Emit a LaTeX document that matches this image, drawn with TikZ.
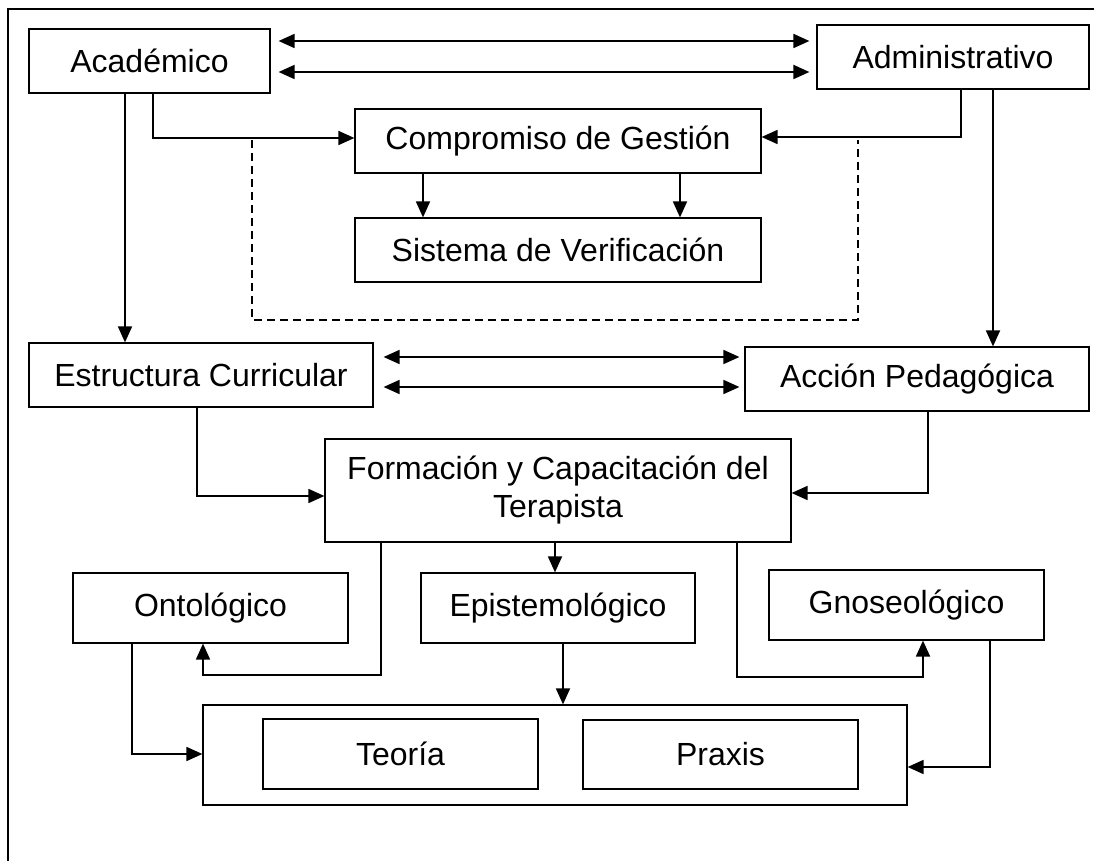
\documentclass[tikz,border=0pt]{standalone}
\usepackage{fontspec}
\setmainfont{Liberation Sans}
\usetikzlibrary{arrows.meta}

\begin{document}
\begin{tikzpicture}[x=0.5pt,y=-0.5pt,line width=0.9pt,
    caja/.style={draw,line width=0.6pt,inner sep=0pt,align=center,
      font=\fontsize{16}{19}\selectfont},
    >={Triangle[length=8pt,width=7pt]}]
    \useasboundingbox (0,0) rectangle (1094,861);
    \draw[line width=0.6pt] (8,861) -- (8,9) -- (1094,9);

    \node[caja,minimum width=120.5pt,minimum height=32pt](acad) at (149.5,61) {Académico};
    \node[caja,minimum width=136pt,minimum height=32pt](admin) at (953,57) {Administrativo};
    \node[caja,minimum width=203pt,minimum height=32pt](comp) at (558,141) {Compromiso de Gestión};
    \node[caja,minimum width=203pt,minimum height=32pt](sist) at (558,250) {Sistema de Verificación};
    \node[caja,minimum width=172pt,minimum height=32pt](estr) at (201,375) {Estructura Curricular};
    \node[caja,minimum width=172pt,minimum height=32pt](accion) at (917,379) {Acción Pedagógica};
    \node[caja,minimum width=233pt,minimum height=51.5pt](form) at (558,490.5) {Formación y Capacitación del\\Terapista};
    \node[caja,minimum width=137.5pt,minimum height=35pt](onto) at (210.5,608) {Ontológico};
    \node[caja,minimum width=137pt,minimum height=35pt](epis) at (558,608) {Epistemológico};
    \node[caja,minimum width=137.5pt,minimum height=35pt](gnos) at (906.5,605) {Gnoseológico};
    \node[caja,minimum width=352pt,minimum height=50pt](marco) at (555,755) {};
    \node[caja,minimum width=137.5pt,minimum height=35pt](teoria) at (400.5,754) {Teoría};
    \node[caja,minimum width=137.5pt,minimum height=34.5pt](praxis) at (720.5,754.5) {Praxis};

    \draw[<->,shorten <=4pt,shorten >=3.5pt] ([yshift=10pt]acad.east) -- ([yshift=10pt]acad.east -| admin.west);
    \draw[<->,shorten <=4pt,shorten >=3.5pt] ([yshift=-5.5pt]acad.east) -- ([yshift=-5.5pt]acad.east -| admin.west);
    \draw[<->,shorten <=5pt,shorten >=2.5pt] ([yshift=9pt]estr.east) -- ([yshift=9pt]estr.east -| accion.west);
    \draw[<->,shorten <=5pt,shorten >=2.5pt] ([yshift=-6pt]estr.east) -- ([yshift=-6pt]estr.east -| accion.west);

    \draw[->] (acad.south -| 125,0) -- (estr.north -| 125,0);
    \draw[->] (acad.south -| 143,0) -- (acad.south -| 153,0) -- (153,138) -- (comp.west |- 0,138);
    \draw[->] (admin.south -| 961,0) -- (961,137) -- (comp.east |- 0,137);
    \draw[->] (admin.south -| 993,0) -- (accion.north -| 993,0);
    \draw[->] (comp.south -| 423,0) -- (sist.north -| 423,0);
    \draw[->] (comp.south -| 680,0) -- (sist.north -| 680,0);
    \draw[dashed,line width=0.6pt,dash pattern=on 4pt off 2.5pt] (252,140) -- (252,320) -- (858,320) -- (858,140);

    \draw[->] (estr.south -| 185,0) -- (estr.south -| 197,0) -- (197,496) -- (form.west |- 0,496);
    \draw[->] (accion.south -| 928,0) -- (928,493) -- (form.east |- 0,493);
    \draw[->] (form.south -| 555,0) -- (epis.north -| 555,0);
    \draw[->] (form.south -| 381,0) -- (381,675) -- (203,675) -- (onto.south -| 203,0);
    \draw[->] (form.south -| 737,0) -- (737,677) -- (923,677) -- (gnos.south -| 923,0);

    \draw[->] (onto.south -| 132,0) -- (132,754) -- (marco.west |- 0,754);
    \draw[->] (epis.south -| 563,0) -- (marco.north -| 563,0);
    \draw[->] (gnos.south -| 990,0) -- (990,767) -- (marco.east |- 0,767);
  \end{tikzpicture}
\end{document}
